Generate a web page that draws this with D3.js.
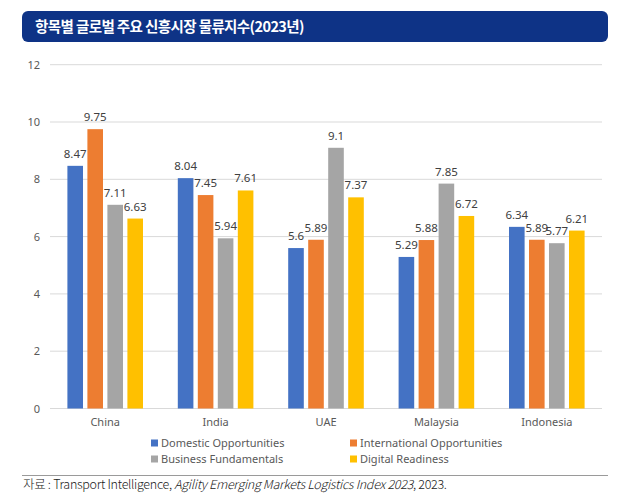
<!DOCTYPE html>
<html><head><meta charset="utf-8">
<script src="https://cdn.jsdelivr.net/npm/d3@7"></script>
<style>
body{margin:0;background:#fff;}
svg{display:block;font-family:"Noto Sans","Open Sans",sans-serif;}
</style></head>
<body><svg id="c" width="644" height="502"></svg>
<script>
const title = "항목별 글로벌 주요 신흥시장 물류지수(2023년)";
const categories = ["China","India","UAE","Malaysia","Indonesia"];
const seriesNames = ["Domestic Opportunities","International Opportunities","Business Fundamentals","Digital Readiness"];
const domestic = [8.47, 8.04, 5.6, 5.29, 6.34];
const international = [9.75, 7.45, 5.89, 5.88, 5.89];
const business = [7.11, 5.94, 9.1, 7.85, 5.77];
const digital = [6.63, 7.61, 7.37, 6.72, 6.21];
const yTicks = [0, 2, 4, 6, 8, 10, 12];
const colors = ["#4472C4","#ED7D31","#A5A5A5","#FFC000"];
const seriesValues = [domestic, international, business, digital];

const svg = d3.select("#c");

// title bar
svg.append("rect").attr("x",22).attr("y",11).attr("width",586).attr("height",31)
  .attr("rx",6).attr("fill","#0E3386");
svg.append("text").attr("x",35).attr("y",32).attr("fill","#fff")
  .attr("font-family","'Noto Sans CJK KR',sans-serif").attr("font-weight","bold")
  .attr("font-size",14.5).attr("letter-spacing",-0.6).text(title);

const x0 = d3.scaleBand().domain(categories).range([50,602]).paddingInner(0).paddingOuter(0);
const x1 = d3.scaleBand().domain(seriesNames).range([-37.8,37.8]).paddingInner(0.22).paddingOuter(0);
const y = d3.scaleLinear().domain([0,12]).range([408.5,64.7]);

// grid
svg.append("g").selectAll("line").data(yTicks).join("line")
  .attr("x1",50).attr("x2",602).attr("y1",d=>y(d)).attr("y2",d=>y(d))
  .attr("stroke","#D9D9D9").attr("stroke-width",1);

// y axis labels
const yAxis = d3.axisLeft(y).tickValues(yTicks).tickSize(0).tickPadding(0);
const ya = svg.append("g").attr("transform","translate(40,0)").call(yAxis);
ya.select(".domain").remove();
ya.selectAll("text").attr("font-size",11).attr("fill","#595959").attr("font-family","'Noto Sans',sans-serif");

// x axis labels
const xAxis = d3.axisBottom(x0).tickSize(0).tickPadding(0);
const xa = svg.append("g").attr("transform","translate(0,418)").call(xAxis);
xa.select(".domain").remove();
xa.selectAll("text").attr("font-size",11).attr("fill","#595959").attr("font-family","'Noto Sans',sans-serif");

// bars
const rows = [];
categories.forEach((c,i)=>seriesNames.forEach((s,j)=>rows.push({c,s,j,v:seriesValues[j][i]})));
const g = svg.append("g");
g.selectAll("rect").data(rows).join("rect")
  .attr("x",d=>x0(d.c)+x0.bandwidth()/2+x1(d.s))
  .attr("width",x1.bandwidth())
  .attr("y",d=>y(d.v)).attr("height",d=>y(0)-y(d.v))
  .attr("fill",d=>colors[d.j]);
g.selectAll("text").data(rows).join("text")
  .attr("x",d=>x0(d.c)+x0.bandwidth()/2+x1(d.s)+x1.bandwidth()/2)
  .attr("y",d=>y(d.v)-8)
  .attr("text-anchor","middle").attr("font-size",11.5).attr("fill","#404040")
  .text(d=>d.v);

// legend
const legPos = [[151,443],[350,443],[151,459],[350,459]];
const lg = svg.append("g").selectAll("g").data(seriesNames).join("g")
  .attr("transform",(d,i)=>`translate(${legPos[i][0]},${legPos[i][1]})`);
lg.append("rect").attr("x",0).attr("y",-3.5).attr("width",7).attr("height",7).attr("fill",(d,i)=>colors[i]);
lg.append("text").attr("x",10).attr("y",4).attr("font-size",11).attr("fill","#595959").text(d=>d);

// footer
svg.append("line").attr("x1",22).attr("x2",608).attr("y1",475.5).attr("y2",475.5).attr("stroke","#9a9a9a").attr("stroke-width",1);
const ft = svg.append("text").attr("x",23).attr("y",489).attr("font-size",12.5).attr("fill","#222")
  .attr("font-family","'Noto Sans CJK KR',sans-serif").attr("font-weight",300).attr("letter-spacing",-0.3);
ft.append("tspan").text("자료 : Transport Intelligence, ");
ft.append("tspan").attr("font-style","italic").text("Agility Emerging Markets Logistics Index 2023");
ft.append("tspan").text(", 2023.");
</script></body></html>
